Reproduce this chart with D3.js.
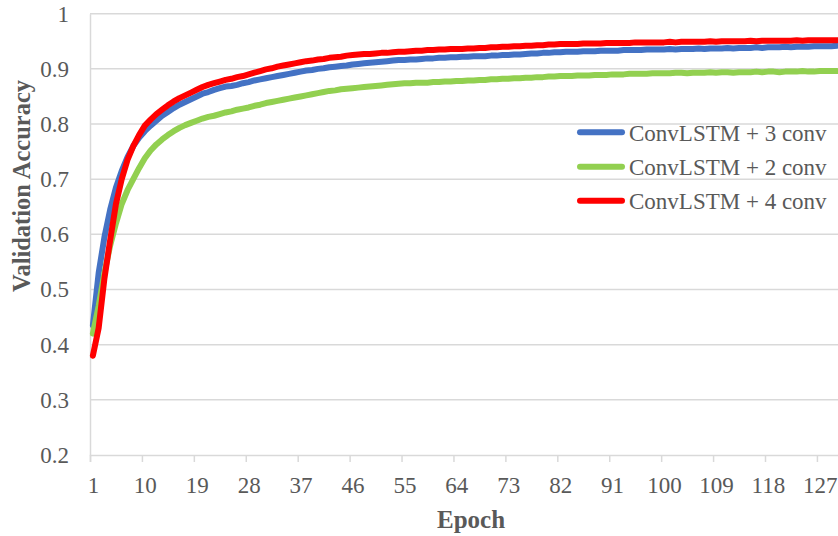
<!DOCTYPE html>
<html>
<head>
<meta charset="utf-8">
<script src="https://cdn.jsdelivr.net/npm/d3@7"></script>
<style>
  html, body { margin: 0; padding: 0; background: #fff; }
  svg { display: block; }
  text { font-family: "Liberation Serif", "Times New Roman", serif; fill: #595959; }
</style>
</head>
<body>
<svg id="chart" width="838" height="536"></svg>
<script>
// ---- data ----
const seriesNames = ["ConvLSTM + 3 conv", "ConvLSTM + 2 conv", "ConvLSTM + 4 conv"];
const seriesColors = ["#4472C4", "#92D050", "#FF0000"];

const conv3 = [
  0.435, 0.530, 0.595, 0.645, 0.685, 0.715, 0.740, 0.760, 0.775, 0.787,
  0.797, 0.806, 0.815, 0.822, 0.829, 0.835, 0.840, 0.845, 0.850, 0.855,
  0.858, 0.862, 0.865, 0.868, 0.869, 0.871, 0.874, 0.876, 0.879, 0.881,
  0.883, 0.885, 0.887, 0.889, 0.891, 0.893, 0.895, 0.897, 0.898, 0.900,
  0.901, 0.903, 0.904, 0.905, 0.906, 0.908, 0.909, 0.910, 0.911, 0.912,
  0.913, 0.914, 0.915, 0.916, 0.916, 0.917, 0.917, 0.918, 0.919, 0.919,
  0.920, 0.920, 0.921, 0.921, 0.922, 0.922, 0.923, 0.923, 0.923, 0.924,
  0.924, 0.925, 0.925, 0.926, 0.926, 0.927, 0.928, 0.928, 0.929, 0.929,
  0.930, 0.930, 0.931, 0.931, 0.931, 0.932, 0.932, 0.932, 0.933, 0.933,
  0.933, 0.933, 0.934, 0.934, 0.934, 0.934, 0.935, 0.935, 0.935, 0.935,
  0.936, 0.935, 0.936, 0.936, 0.936, 0.937, 0.936, 0.937, 0.937, 0.937,
  0.938, 0.937, 0.938, 0.938, 0.938, 0.939, 0.938, 0.939, 0.939, 0.939,
  0.940, 0.939, 0.940, 0.940, 0.940, 0.941, 0.941, 0.941, 0.941, 0.942
];

const conv2 = [
  0.420, 0.470, 0.530, 0.580, 0.620, 0.655, 0.680, 0.700, 0.720, 0.738,
  0.752, 0.763, 0.772, 0.780, 0.787, 0.793, 0.798, 0.802, 0.806, 0.810,
  0.813, 0.815, 0.818, 0.821, 0.823, 0.826, 0.828, 0.830, 0.833, 0.835,
  0.838, 0.840, 0.842, 0.844, 0.846, 0.848, 0.850, 0.852, 0.854, 0.856,
  0.858, 0.860, 0.861, 0.863, 0.864, 0.865, 0.866, 0.867, 0.868, 0.869,
  0.870, 0.871, 0.872, 0.873, 0.874, 0.874, 0.875, 0.875, 0.875, 0.876,
  0.876, 0.877, 0.877, 0.878, 0.878, 0.879, 0.879, 0.880, 0.880, 0.881,
  0.881, 0.882, 0.882, 0.883, 0.883, 0.884, 0.884, 0.885, 0.885, 0.886,
  0.886, 0.887, 0.887, 0.887, 0.888, 0.888, 0.888, 0.889, 0.889, 0.889,
  0.890, 0.890, 0.890, 0.891, 0.891, 0.891, 0.891, 0.892, 0.892, 0.892,
  0.892, 0.893, 0.893, 0.892, 0.893, 0.893, 0.893, 0.894, 0.893, 0.894,
  0.894, 0.893, 0.894, 0.894, 0.894, 0.895, 0.894, 0.895, 0.895, 0.894,
  0.895, 0.895, 0.895, 0.896, 0.895, 0.895, 0.896, 0.896, 0.896, 0.896
];

const conv4 = [
  0.380, 0.430, 0.520, 0.590, 0.655, 0.700, 0.735, 0.760, 0.780, 0.797,
  0.808, 0.818, 0.826, 0.834, 0.841, 0.847, 0.852, 0.857, 0.862, 0.867,
  0.871, 0.874, 0.877, 0.880, 0.882, 0.885, 0.887, 0.890, 0.893, 0.896,
  0.899, 0.901, 0.904, 0.906, 0.908, 0.910, 0.912, 0.914, 0.915, 0.917,
  0.918, 0.920, 0.921, 0.922, 0.924, 0.925, 0.926, 0.927, 0.927, 0.928,
  0.929, 0.929, 0.930, 0.931, 0.931, 0.932, 0.933, 0.933, 0.934, 0.934,
  0.935, 0.935, 0.936, 0.936, 0.936, 0.937, 0.937, 0.938, 0.938, 0.939,
  0.939, 0.940, 0.940, 0.941, 0.941, 0.942, 0.942, 0.943, 0.943, 0.944,
  0.944, 0.945, 0.945, 0.945, 0.945, 0.946, 0.946, 0.946, 0.946, 0.947,
  0.947, 0.947, 0.947, 0.947, 0.948, 0.948, 0.948, 0.948, 0.948, 0.948,
  0.949, 0.948, 0.949, 0.949, 0.949, 0.949, 0.949, 0.950, 0.949, 0.950,
  0.950, 0.950, 0.950, 0.950, 0.951, 0.950, 0.951, 0.951, 0.951, 0.951,
  0.951, 0.951, 0.952, 0.951, 0.952, 0.952, 0.952, 0.952, 0.952, 0.952
];

const epochs = conv3.map((d, i) => i + 1);
const xTickLabels = [1, 10, 19, 28, 37, 46, 55, 64, 73, 82, 91, 100, 109, 118, 127];
const yTicks = [0.2, 0.3, 0.4, 0.5, 0.6, 0.7, 0.8, 0.9, 1];
const seriesValues = [conv3, conv2, conv4];

// ---- layout ----
const svg = d3.select("#chart");
const plotLeft = 90, plotRight = 840, plotTop = 13.7, plotBottom = 455;
const gridColor = "#D9D9D9";
const textColor = "#595959";

const x = d3.scaleLinear().domain([0.5, epochs.length + 0.5]).range([plotLeft, plotRight]);
const y = d3.scaleLinear().domain([0.2, 1]).range([plotBottom, plotTop]);

// gridlines
svg.append("g")
  .selectAll("line")
  .data(yTicks.slice(1))
  .join("line")
  .attr("x1", plotLeft).attr("x2", plotRight)
  .attr("y1", d => y(d)).attr("y2", d => y(d))
  .attr("stroke", gridColor).attr("stroke-width", 1.5);

// y axis
const yAxis = d3.axisLeft(y).tickValues(yTicks).tickSize(0).tickPadding(21)
  .tickFormat(d => d === 1 ? "1" : d3.format(".1f")(d));
const gy = svg.append("g").attr("transform", `translate(${plotLeft},0)`).call(yAxis);
gy.select(".domain").attr("stroke", gridColor).attr("stroke-width", 1.5);
gy.selectAll("text")
  .style("font-family", '"Liberation Serif", "Times New Roman", serif')
  .style("font-size", "23px").attr("fill", textColor);

// x axis: tick marks at category boundaries, labels at category centers
const boundaries = xTickLabels.map(d => d - 0.5);
const gxTicks = d3.axisBottom(x).tickValues(boundaries).tickSize(7).tickFormat("");
const gx = svg.append("g").attr("transform", `translate(0,${plotBottom})`).call(gxTicks);
gx.select(".domain").attr("stroke", gridColor).attr("stroke-width", 1.5);
gx.selectAll(".tick line").attr("stroke", gridColor).attr("stroke-width", 1.5);

const gxLabels = svg.append("g").attr("transform", `translate(0,${plotBottom})`)
  .call(d3.axisBottom(x).tickValues(xTickLabels).tickSize(0).tickPadding(22).tickFormat(d3.format("d")));
gxLabels.select(".domain").remove();
gxLabels.selectAll("text")
  .style("font-family", '"Liberation Serif", "Times New Roman", serif')
  .style("font-size", "23px").attr("fill", textColor);

// lines
const line = d3.line()
  .x((d, i) => x(epochs[i]))
  .y(d => y(d));

svg.append("g")
  .selectAll("path")
  .data(seriesValues)
  .join("path")
  .attr("d", d => line(d))
  .attr("fill", "none")
  .attr("stroke", (d, i) => seriesColors[i])
  .attr("stroke-width", 6)
  .attr("stroke-linejoin", "round")
  .attr("stroke-linecap", "round");

// axis titles
svg.append("text")
  .attr("x", 471).attr("y", 528)
  .attr("text-anchor", "middle")
  .style("font-size", "25px").style("font-weight", "bold")
  .text("Epoch");

svg.append("text")
  .attr("transform", "translate(30,186) rotate(-90)")
  .attr("text-anchor", "middle")
  .style("font-size", "24.5px").style("font-weight", "bold")
  .text("Validation Accuracy");

// legend
const legend = svg.append("g");
const legY = [132.3, 166.7, 200.7];
seriesNames.forEach((name, i) => {
  legend.append("line")
    .attr("x1", 580).attr("x2", 622)
    .attr("y1", legY[i]).attr("y2", legY[i])
    .attr("stroke", seriesColors[i]).attr("stroke-width", 6)
    .attr("stroke-linecap", "round");
  legend.append("text")
    .attr("x", 629).attr("y", legY[i] + 8.5)
    .style("font-size", "23px")
    .text(name);
});
</script>
</body>
</html>
